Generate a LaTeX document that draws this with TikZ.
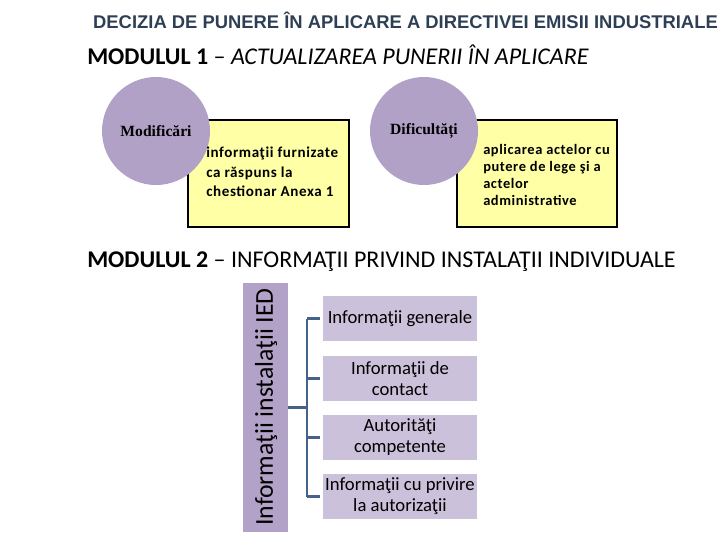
\documentclass[tikz,border=0pt]{standalone}
\usepackage{fontspec}
\setmainfont{Carlito}
\newfontfamily\arialf{Liberation Sans}
\newfontfamily\timesf{Liberation Serif}
\newfontfamily\spacedf[LetterSpace=4]{Carlito}
\definecolor{titlecol}{HTML}{2E3F55}
\definecolor{circcol}{HTML}{B2A1C7}
\definecolor{yelcol}{HTML}{FFFFA5}
\definecolor{boxcol}{HTML}{CCC1DA}
\definecolor{barcol}{HTML}{B3A2C7}
\definecolor{brkcol}{HTML}{44628A}
\begin{document}
\begin{tikzpicture}[x=0.75pt,y=-0.75pt,
  circ/.style={circle,fill=circcol,minimum size=108*0.75pt,inner sep=0pt},
  yel/.style={draw=black,line width=0.8pt,fill=yelcol},
  lbox/.style={fill=boxcol,minimum width=154*0.75pt,minimum height=45*0.75pt,inner sep=0pt,align=center,font=\fontsize{14}{15.8}\selectfont},
  brk/.style={draw=brkcol,line width=2.2pt},
  heading/.style={anchor=west,inner sep=0pt,font=\fontsize{18}{20}\selectfont}]
\useasboundingbox (0,0) rectangle (720,540);
% title
\node[inner sep=0pt,text=titlecol,font=\arialf\bfseries\fontsize{13.8}{15}\selectfont] (title) at (405.5,20) {DECIZIA DE PUNERE ÎN APLICARE A DIRECTIVEI EMISII INDUSTRIALE};
% module 1
\node[heading] (m1) at (87,55) {\textbf{MODULUL 1} -- \textit{ACTUALIZAREA PUNERII ÎN APLICARE}};
% yellow boxes
\draw[yel] (188,120) rectangle (349,227);
\draw[yel] (457,120) rectangle (617,227);
% circles
\node[circ] (c1) at (156,131) {};
\node[circ] (c2) at (424,131) {};
\node[font=\timesf\bfseries\fontsize{11.7}{13}\selectfont] (c1t) at (156,131) {Modificări};
\node[font=\timesf\bfseries\fontsize{11.7}{13}\selectfont] (c2t) at (424,131) {Dificultăți};
% yellow texts
\node[anchor=west,align=left,inner sep=0pt,font=\spacedf\bfseries\fontsize{11.3}{14.5}\selectfont] (t1) at (206,172) {informaţii furnizate\\ca răspuns la\\chestionar Anexa 1};
\node[anchor=west,align=left,inner sep=0pt,font=\spacedf\bfseries\fontsize{10.85}{12.8}\selectfont] (t2) at (483,175) {aplicarea actelor cu\\putere de lege şi a\\actelor\\administrative};
% module 2
\node[heading] (m2) at (87,262) {\textbf{MODULUL 2} -- INFORMAŢII PRIVIND INSTALAŢII INDIVIDUALE};
% vertical bar
\node[fill=barcol,minimum width=45*0.75pt,minimum height=249*0.75pt,inner sep=0pt] (bar) at (265.5,407.5) {};
\node[rotate=90,inner sep=0pt,font=\fontsize{19.3}{21}\selectfont] (bart) at (266,407) {Informaţii instalaţii IED};
% boxes
\node[lbox] (b1) at (400,318.5) {Informaţii generale};
\node[lbox] (b2) at (400,378.5) {Informaţii de\\contact};
\node[lbox] (b3) at (400,437.5) {Autorităţi\\competente};
\node[lbox] (b4) at (400,496.5) {Informaţii cu privire\\la autorizaţii};
% bracket
\coordinate (vtop) at (307,318.5);
\coordinate (vbot) at (307,496.5);
\coordinate (vmid) at (307,407.5);
\draw[brk] (vtop) -- (vbot);
\draw[brk] (vtop) -- ([xshift=-3*0.75pt]b1.west);
\draw[brk] (307,378.5) -- ([xshift=-3*0.75pt]b2.west);
\draw[brk] (307,437.5) -- ([xshift=-3*0.75pt]b3.west);
\draw[brk] (vbot) -- ([xshift=-3*0.75pt]b4.west);
\draw[brk] (bar.east |- vmid) -- ([xshift=1.1pt]vmid);
\end{tikzpicture}
\end{document}
